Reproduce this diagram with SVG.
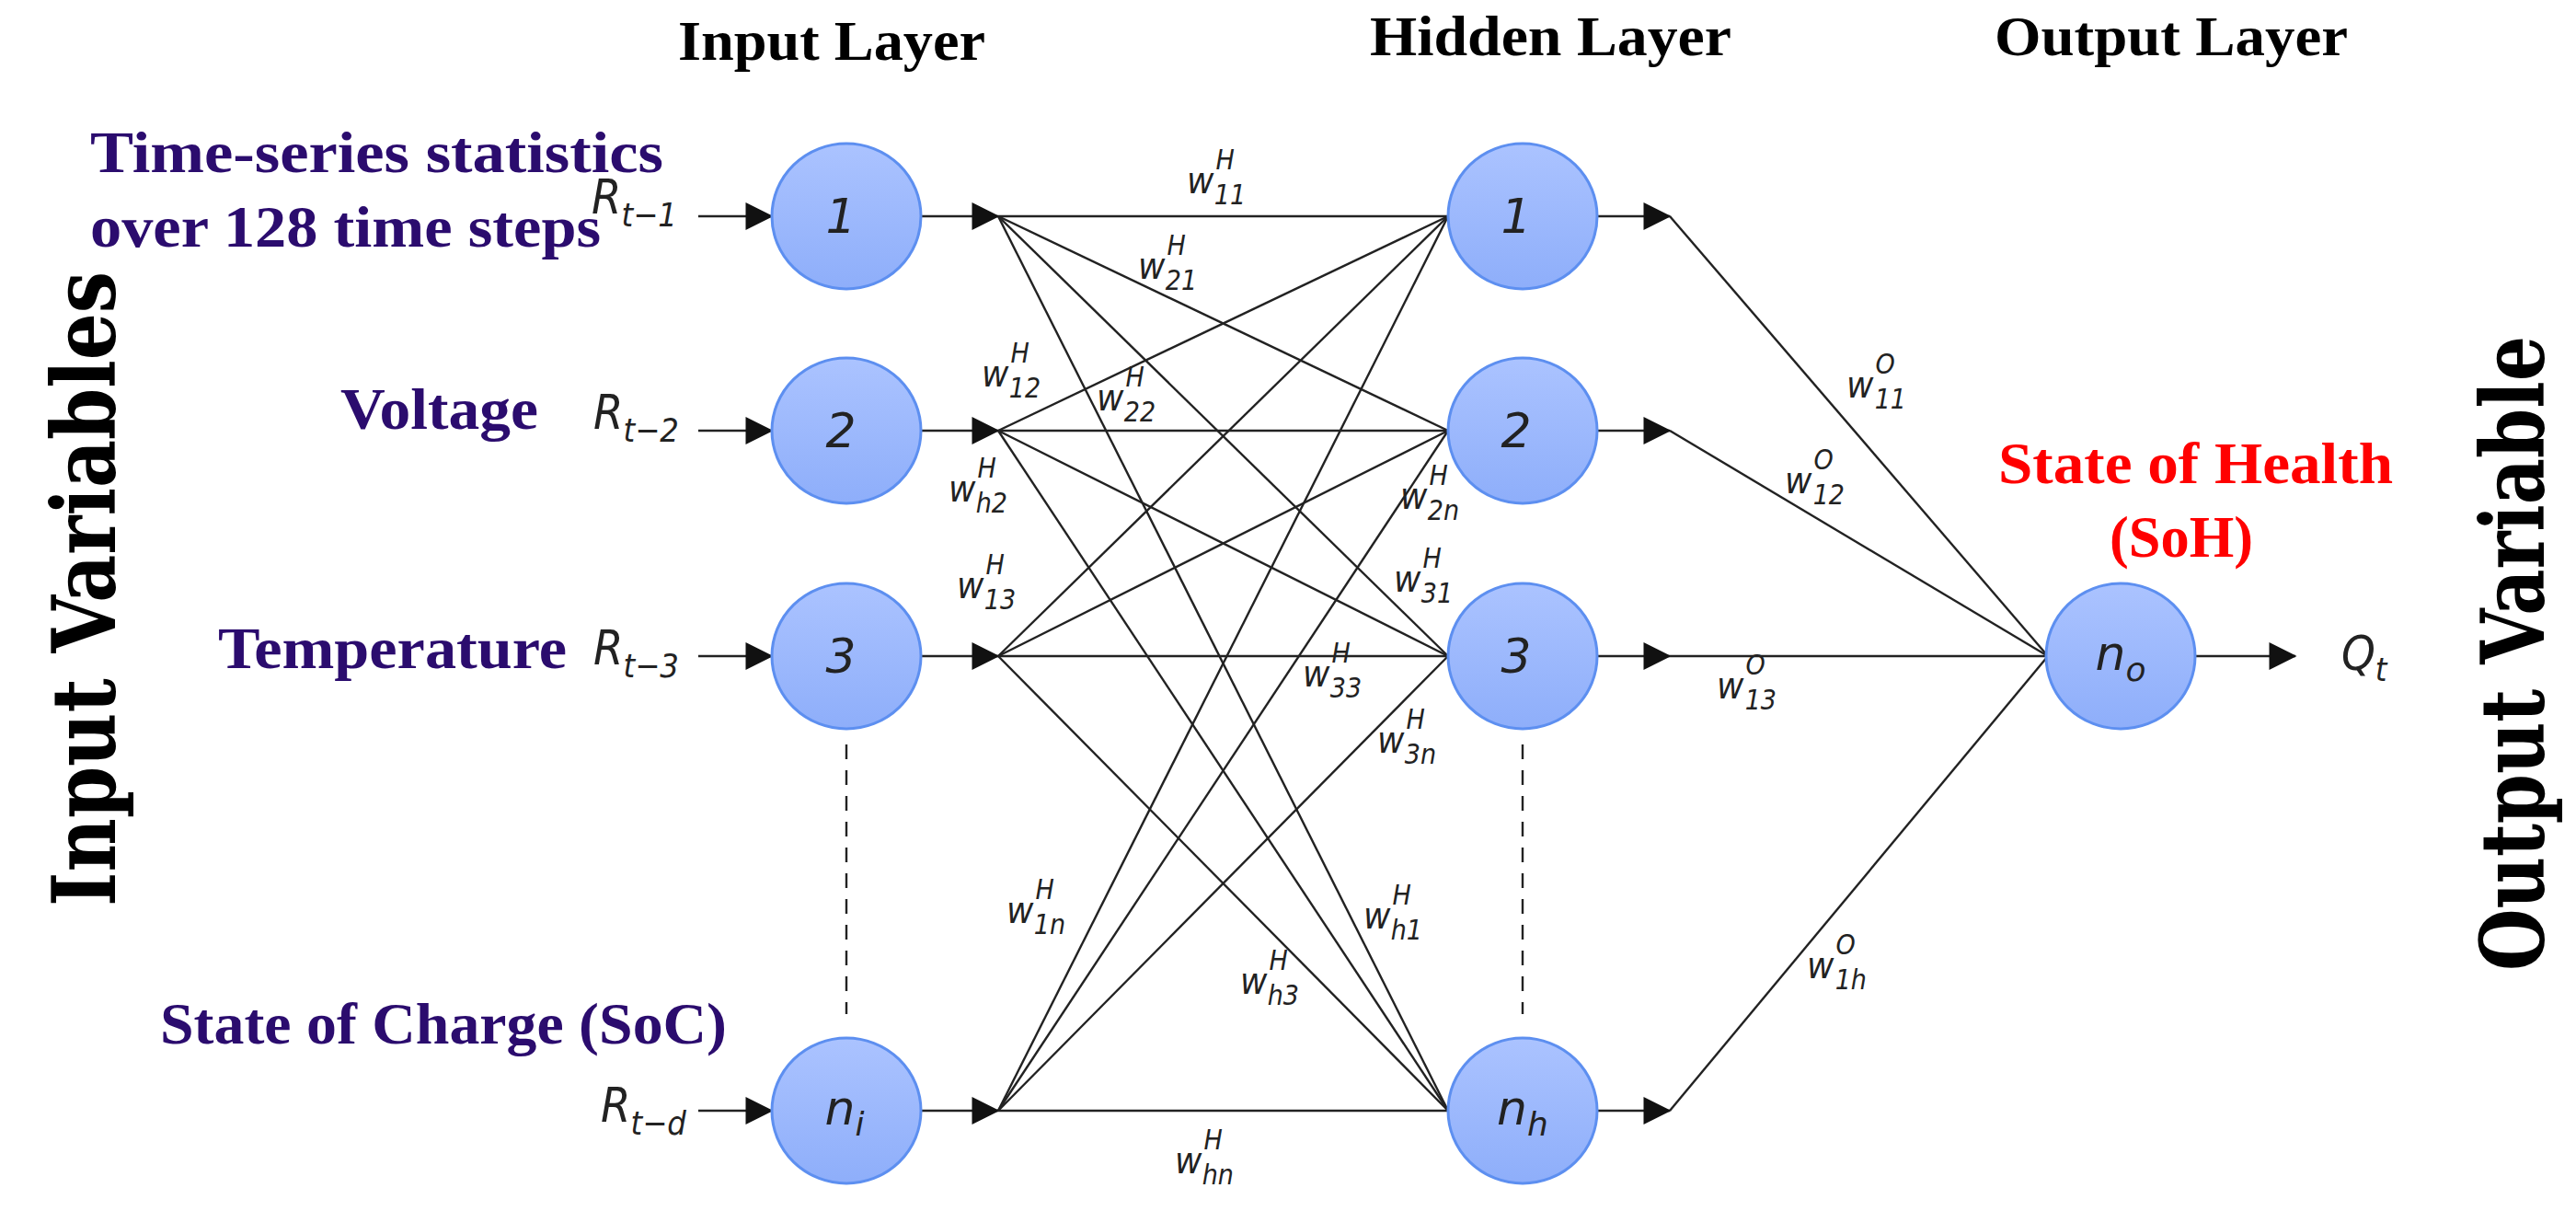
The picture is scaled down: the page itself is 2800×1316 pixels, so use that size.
<svg xmlns="http://www.w3.org/2000/svg" width="2800" height="1316" viewBox="0 0 2800 1316">
<style>
.title{font-family:"Liberation Serif",serif;font-weight:bold;font-size:62px;fill:#000}
.var{font-family:"Liberation Serif",serif;font-weight:bold;font-size:64px;fill:#2b0c6e}
.side{font-family:"DejaVu Serif",serif;font-weight:bold;font-size:96px;fill:#000}
.node{fill:url(#g);stroke:#5d8ff0;stroke-width:3}
.nt{font-family:"DejaVu Sans",sans-serif;font-style:italic;font-size:52px;fill:#222;text-anchor:middle}
.w{font-family:"DejaVu Sans Condensed","DejaVu Sans",sans-serif;font-style:italic;font-size:40px;fill:#222}
.s{font-size:30px}
.c line{stroke:#222;stroke-width:2.4}
.a{stroke:#222;stroke-width:3.5;marker-end:url(#ah)}
.m{font-family:"DejaVu Sans Condensed","DejaVu Sans",sans-serif;font-style:italic;font-size:52px;fill:#222}
.ms{font-size:36px}
</style>
<defs>
<linearGradient id="g" x1="0" y1="0" x2="0" y2="1"><stop offset="0" stop-color="#abc3ff"/><stop offset="1" stop-color="#8eaefa"/></linearGradient>
<marker id="ah" markerWidth="10" markerHeight="10" refX="9" refY="5" orient="auto" markerUnits="userSpaceOnUse" viewBox="0 0 10 10" style="overflow:visible"><path d="M0,0 L10,5 L0,10 Z" fill="#111" transform="scale(3)translate(-6.5,-3.3)"/></marker>
</defs>
<rect width="2800" height="1316" fill="#fff"/>
<text class="title" x="737" y="65" textLength="334" lengthAdjust="spacingAndGlyphs">Input Layer</text>
<text class="title" x="1489" y="60" textLength="393" lengthAdjust="spacingAndGlyphs">Hidden Layer</text>
<text class="title" x="2168" y="60" textLength="384" lengthAdjust="spacingAndGlyphs">Output Layer</text>
<text class="var" x="98" y="187" textLength="623" lengthAdjust="spacingAndGlyphs">Time-series statistics</text>
<text class="var" x="98" y="268" textLength="555" lengthAdjust="spacingAndGlyphs">over 128 time steps</text>
<text class="var" x="370" y="466" textLength="215" lengthAdjust="spacingAndGlyphs">Voltage</text>
<text class="var" x="237" y="726" textLength="379" lengthAdjust="spacingAndGlyphs">Temperature</text>
<text class="var" x="174" y="1134" textLength="616" lengthAdjust="spacingAndGlyphs">State of Charge (SoC)</text>
<text class="var" x="2172" y="525" textLength="429" lengthAdjust="spacingAndGlyphs" style="fill:#ff0000">State of Health</text>
<text class="var" x="2293" y="605" textLength="156" lengthAdjust="spacingAndGlyphs" style="fill:#ff0000">(SoH)</text>
<text class="side" transform="translate(125,985) rotate(-90)" textLength="690" lengthAdjust="spacingAndGlyphs">Input Variables</text>
<text class="side" transform="translate(2765,1055) rotate(-90)" textLength="690" lengthAdjust="spacingAndGlyphs">Output Variable</text>

<g id="connectors" class="c">
<line x1="759" y1="235" x2="839" y2="235" class="a"/>
<line x1="759" y1="468" x2="839" y2="468" class="a"/>
<line x1="759" y1="713" x2="839" y2="713" class="a"/>
<line x1="759" y1="1207" x2="839" y2="1207" class="a"/>
<line x1="1001" y1="235" x2="1085" y2="235" class="a"/>
<line x1="1001" y1="468" x2="1085" y2="468" class="a"/>
<line x1="1001" y1="713" x2="1085" y2="713" class="a"/>
<line x1="1001" y1="1207" x2="1085" y2="1207" class="a"/>
<line x1="1736" y1="235" x2="1815" y2="235" class="a"/>
<line x1="1736" y1="468" x2="1815" y2="468" class="a"/>
<line x1="1736" y1="713" x2="1815" y2="713" class="a"/>
<line x1="1736" y1="1207" x2="1815" y2="1207" class="a"/>
<line x1="2386" y1="713" x2="2495" y2="713" class="a"/>
<line x1="1085" y1="235" x2="1574" y2="235"/><line x1="1085" y1="235" x2="1574" y2="468"/><line x1="1085" y1="235" x2="1574" y2="713"/><line x1="1085" y1="235" x2="1574" y2="1207"/>
<line x1="1085" y1="468" x2="1574" y2="235"/><line x1="1085" y1="468" x2="1574" y2="468"/><line x1="1085" y1="468" x2="1574" y2="713"/><line x1="1085" y1="468" x2="1574" y2="1207"/>
<line x1="1085" y1="713" x2="1574" y2="235"/><line x1="1085" y1="713" x2="1574" y2="468"/><line x1="1085" y1="713" x2="1574" y2="713"/><line x1="1085" y1="713" x2="1574" y2="1207"/>
<line x1="1085" y1="1207" x2="1574" y2="235"/><line x1="1085" y1="1207" x2="1574" y2="468"/><line x1="1085" y1="1207" x2="1574" y2="713"/><line x1="1085" y1="1207" x2="1574" y2="1207"/>
<line x1="1815" y1="235" x2="2226" y2="713"/><line x1="1815" y1="468" x2="2226" y2="713"/><line x1="1815" y1="713" x2="2226" y2="713"/><line x1="1815" y1="1207" x2="2226" y2="713"/>
<line x1="920" y1="809" x2="920" y2="1102" stroke-dasharray="16,12"/>
<line x1="1655" y1="809" x2="1655" y2="1102" stroke-dasharray="16,12"/>
</g>

<g id="in1"><ellipse class="node" cx="920" cy="235" rx="81" ry="79"/><text class="nt" x="914" y="253">1</text></g>
<g id="in2"><ellipse class="node" cx="920" cy="468" rx="81" ry="79"/><text class="nt" x="914" y="486">2</text></g>
<g id="in3"><ellipse class="node" cx="920" cy="713" rx="81" ry="79"/><text class="nt" x="914" y="731">3</text></g>
<g id="inN"><ellipse class="node" cx="920" cy="1207" rx="81" ry="79"/><text class="nt" x="918" y="1222">n<tspan class="ms" dy="12">i</tspan></text></g>
<g id="h1"><ellipse class="node" cx="1655" cy="235" rx="81" ry="79"/><text class="nt" x="1648" y="253">1</text></g>
<g id="h2"><ellipse class="node" cx="1655" cy="468" rx="81" ry="79"/><text class="nt" x="1648" y="486">2</text></g>
<g id="h3"><ellipse class="node" cx="1655" cy="713" rx="81" ry="79"/><text class="nt" x="1648" y="731">3</text></g>
<g id="hN"><ellipse class="node" cx="1655" cy="1207" rx="81" ry="79"/><text class="nt" x="1655" y="1222">n<tspan class="ms" dy="12">h</tspan></text></g>
<g id="out"><ellipse class="node" cx="2305" cy="713" rx="81" ry="79"/><text class="nt" x="2305" y="728">n<tspan class="ms" dy="12">o</tspan></text></g>

<g id="rlabels">
<text class="m" x="643" y="232">R<tspan class="ms" dy="14">t−1</tspan></text>
<text class="m" x="645" y="466">R<tspan class="ms" dy="14">t−2</tspan></text>
<text class="m" x="645" y="722">R<tspan class="ms" dy="14">t−3</tspan></text>
<text class="m" x="653" y="1219">R<tspan class="ms" dy="14">t−d</tspan></text>
<text class="m" x="2545" y="728">Q<tspan class="ms" dy="12">t</tspan></text>
</g>

<g id="weights" class="w">
<text x="1290" y="210">w<tspan class="s" dx="2" dy="-26">H</tspan><tspan class="s" dx="-22" dy="38">11</tspan></text>
<text x="1237" y="303">w<tspan class="s" dx="2" dy="-26">H</tspan><tspan class="s" dx="-22" dy="38">21</tspan></text>
<text x="1067" y="420">w<tspan class="s" dx="2" dy="-26">H</tspan><tspan class="s" dx="-22" dy="38">12</tspan></text>
<text x="1192" y="446">w<tspan class="s" dx="2" dy="-26">H</tspan><tspan class="s" dx="-22" dy="38">22</tspan></text>
<text x="1031" y="545">w<tspan class="s" dx="2" dy="-26">H</tspan><tspan class="s" dx="-22" dy="38">h2</tspan></text>
<text x="1040" y="650">w<tspan class="s" dx="2" dy="-26">H</tspan><tspan class="s" dx="-22" dy="38">13</tspan></text>
<text x="1522" y="553">w<tspan class="s" dx="2" dy="-26">H</tspan><tspan class="s" dx="-22" dy="38">2n</tspan></text>
<text x="1515" y="643">w<tspan class="s" dx="2" dy="-26">H</tspan><tspan class="s" dx="-22" dy="38">31</tspan></text>
<text x="1416" y="746">w<tspan class="s" dx="2" dy="-26">H</tspan><tspan class="s" dx="-22" dy="38">33</tspan></text>
<text x="1497" y="818">w<tspan class="s" dx="2" dy="-26">H</tspan><tspan class="s" dx="-22" dy="38">3n</tspan></text>
<text x="1094" y="1003">w<tspan class="s" dx="2" dy="-26">H</tspan><tspan class="s" dx="-22" dy="38">1n</tspan></text>
<text x="1482" y="1009">w<tspan class="s" dx="2" dy="-26">H</tspan><tspan class="s" dx="-22" dy="38">h1</tspan></text>
<text x="1348" y="1080">w<tspan class="s" dx="2" dy="-26">H</tspan><tspan class="s" dx="-22" dy="38">h3</tspan></text>
<text x="1277" y="1275">w<tspan class="s" dx="2" dy="-26">H</tspan><tspan class="s" dx="-22" dy="38">hn</tspan></text>
<text x="2007" y="432">w<tspan class="s" dx="2" dy="-26">O</tspan><tspan class="s" dx="-22" dy="38">11</tspan></text>
<text x="1940" y="536">w<tspan class="s" dx="2" dy="-26">O</tspan><tspan class="s" dx="-22" dy="38">12</tspan></text>
<text x="1866" y="759">w<tspan class="s" dx="2" dy="-26">O</tspan><tspan class="s" dx="-22" dy="38">13</tspan></text>
<text x="1964" y="1063">w<tspan class="s" dx="2" dy="-26">O</tspan><tspan class="s" dx="-22" dy="38">1h</tspan></text>
</g>
</svg>
